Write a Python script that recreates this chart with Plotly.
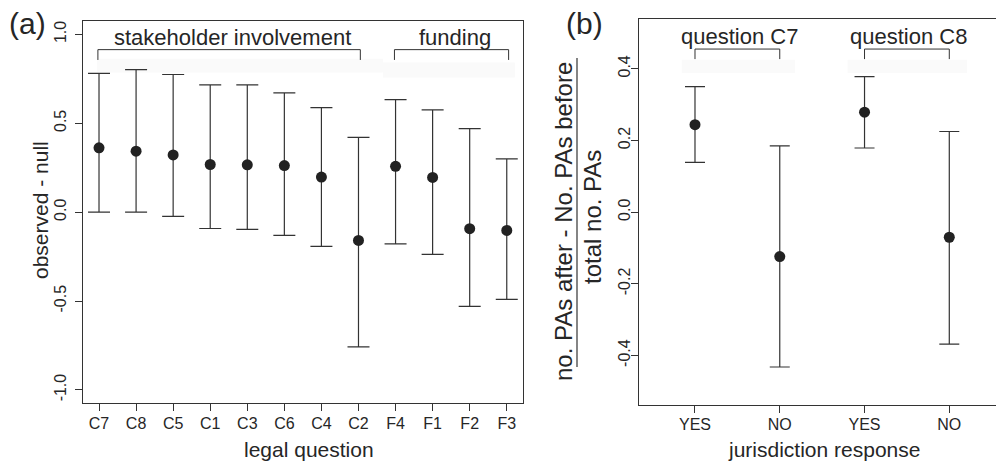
import plotly.graph_objects as go

# ---------------- data ----------------
# panel (a)
questions_a = ["C7", "C8", "C5", "C1", "C3", "C6", "C4", "C2", "F4", "F1", "F2", "F3"]
estimate_a = [0.362, 0.343, 0.322, 0.268, 0.266, 0.262, 0.197, -0.159, 0.258, 0.195, -0.093, -0.103]
upper_a = [0.781, 0.802, 0.774, 0.716, 0.716, 0.671, 0.588, 0.421, 0.633, 0.575, 0.470, 0.300]
lower_a = [0.000, 0.000, -0.024, -0.092, -0.097, -0.131, -0.193, -0.758, -0.178, -0.238, -0.530, -0.490]
groups_a = [("stakeholder involvement", "C7", "C2"), ("funding", "F4", "F3")]
yticks_a = [-1.0, -0.5, 0.0, 0.5, 1.0]
yticklabels_a = ["-1.0", "-0.5", "0.0", "0.5", "1.0"]

# panel (b)
responses_b = ["YES", "NO", "YES", "NO"]
estimate_b = [0.244, -0.124, 0.279, -0.070]
upper_b = [0.350, 0.185, 0.378, 0.225]
lower_b = [0.139, -0.432, 0.179, -0.368]
groups_b = [("question C7", 1, 2), ("question C8", 3, 4)]
yticks_b = [-0.4, -0.2, 0.0, 0.2, 0.4]
yticklabels_b = ["-0.4", "-0.2", "0.0", "0.2", "0.4"]

# ---------------- styling ----------------
W, H = 996, 462
FONT = "Liberation Sans, Arial, Helvetica, sans-serif"
INK = "#262626"
LINE = "#333333"


def px(x):
    return x / W


def py(y):
    return 1 - y / H


xa = list(range(1, len(questions_a) + 1))
xb = list(range(1, len(responses_b) + 1))

fig = go.Figure()

fig.add_trace(go.Scatter(
    x=xa, y=estimate_a, mode="markers", xaxis="x", yaxis="y",
    marker=dict(size=11, color="#222222"),
    error_y=dict(type="data", symmetric=False,
                 array=[u - e for u, e in zip(upper_a, estimate_a)],
                 arrayminus=[e - l for e, l in zip(estimate_a, lower_a)],
                 width=11, thickness=1.2, color=LINE),
    showlegend=False, hoverinfo="skip"))

fig.add_trace(go.Scatter(
    x=xb, y=estimate_b, mode="markers", xaxis="x2", yaxis="y2",
    marker=dict(size=11, color="#222222"),
    error_y=dict(type="data", symmetric=False,
                 array=[u - e for u, e in zip(upper_b, estimate_b)],
                 arrayminus=[e - l for e, l in zip(estimate_b, lower_b)],
                 width=10, thickness=1.2, color=LINE),
    showlegend=False, hoverinfo="skip"))

axis_common = dict(showgrid=False, zeroline=False, showline=True, linecolor=LINE, linewidth=1.3,
                   ticks="outside", ticklen=7, tickwidth=1, tickcolor=LINE,
                   tickfont=dict(family=FONT, size=16, color=INK))

shapes = []
annotations = []

# faint label boxes (behind everything)
for (x0, x1, y0, y1) in [(0.946, 8.66, 0.785, 0.863), (8.66, 12.22, 0.757, 0.841)]:
    shapes.append(dict(type="rect", xref="x", yref="y", x0=x0, x1=x1, y0=y0, y1=y1,
                       fillcolor="#fafafa", line=dict(width=0), layer="below"))
for (x0, x1, y0, y1) in [(0.843, 2.18, 0.388, 0.425), (2.80, 4.21, 0.388, 0.425)]:
    shapes.append(dict(type="rect", xref="x2", yref="y2", x0=x0, x1=x1, y0=y0, y1=y1,
                       fillcolor="#fafafa", line=dict(width=0), layer="below"))


def bracket(xref, yref, x0, x1, ytop, ybot, label, ylab, dx):
    shapes.append(dict(type="path", xref=xref, yref=yref,
                       path=f"M {x0},{ybot} L {x0},{ytop} L {x1},{ytop} L {x1},{ybot}",
                       line=dict(color=LINE, width=1)))
    annotations.append(dict(text=label, xref=xref, yref="paper", x=(x0 + x1) / 2 + dx,
                            y=py(ylab), xanchor="center", yanchor="middle", showarrow=False,
                            font=dict(family=FONT, size=22, color=INK)))


for name, a, b in groups_a:
    i0 = questions_a.index(a) + 1
    i1 = questions_a.index(b) + 1
    bracket("x", "y", i0 - 0.03, i1 + 0.05, 0.914, 0.856, name, 37, 0.1)

for name, a, b in groups_b:
    bracket("x2", "y2", a, b, 0.455, 0.427, name, 36, 0.02)

# fraction line for the panel (b) y title
shapes.append(dict(type="line", xref="paper", yref="paper", x0=px(577), x1=px(577),
                   y0=py(58), y1=py(367), line=dict(color=LINE, width=1.2)))

# panel labels
annotations.append(dict(text="(a)", xref="paper", yref="paper", x=px(27.5), y=py(23),
                        xanchor="center", yanchor="middle", showarrow=False,
                        font=dict(family=FONT, size=30, color=INK)))
annotations.append(dict(text="(b)", xref="paper", yref="paper", x=px(584), y=py(23),
                        xanchor="center", yanchor="middle", showarrow=False,
                        font=dict(family=FONT, size=30, color=INK)))

# axis titles
annotations.append(dict(text="legal question", xref="paper", yref="paper", x=px(309), y=py(449),
                        xanchor="center", yanchor="middle", showarrow=False,
                        font=dict(family=FONT, size=21, color=INK)))
annotations.append(dict(text="observed - null", xref="paper", yref="paper", x=px(40), y=py(210),
                        xanchor="center", yanchor="middle", showarrow=False, textangle=-90,
                        font=dict(family=FONT, size=21, color=INK)))
annotations.append(dict(text="jurisdiction response", xref="paper", yref="paper", x=px(824), y=py(449),
                        xanchor="center", yanchor="middle", showarrow=False,
                        font=dict(family=FONT, size=21, color=INK)))
annotations.append(dict(text="no. PAs after - No. PAs before", xref="paper", yref="paper",
                        x=px(563), y=py(222), xanchor="center", yanchor="middle", showarrow=False,
                        textangle=-90, font=dict(family=FONT, size=24, color=INK)))
annotations.append(dict(text="total no. PAs", xref="paper", yref="paper",
                        x=px(592), y=py(217), xanchor="center", yanchor="middle", showarrow=False,
                        textangle=-90, font=dict(family=FONT, size=24, color=INK)))

fig.update_layout(
    width=W, height=H, margin=dict(l=0, r=0, t=0, b=0),
    paper_bgcolor="white", plot_bgcolor="white",
    xaxis=dict(domain=[px(83), px(522.7)], range=[0.568, 12.43], tickvals=xa, ticktext=questions_a,
               mirror=True, anchor="y", ticklabelstandoff=-2, **axis_common),
    yaxis=dict(domain=[py(403.3), py(21)], range=[-1.075, 1.075], tickvals=yticks_a,
               ticktext=yticklabels_a, tickangle=-90, mirror=True, anchor="x",
               ticklabelstandoff=2, **axis_common),
    xaxis2=dict(domain=[px(639.3), 1.0], range=[0.343, 4.551], tickvals=xb, ticktext=responses_b,
                mirror=True, anchor="y2", ticklabelstandoff=-2, **axis_common),
    yaxis2=dict(domain=[py(405), py(19.3)], range=[-0.538, 0.538], tickvals=yticks_b,
                ticktext=yticklabels_b, tickangle=-90, mirror=False, anchor="x2",
                ticklabelstandoff=-5, **axis_common),
    shapes=shapes, annotations=annotations,
)

fig.write_html("out.html", config={"displayModeBar": False},
               post_script="document.body.style.margin='0';document.body.style.overflow='hidden';")
